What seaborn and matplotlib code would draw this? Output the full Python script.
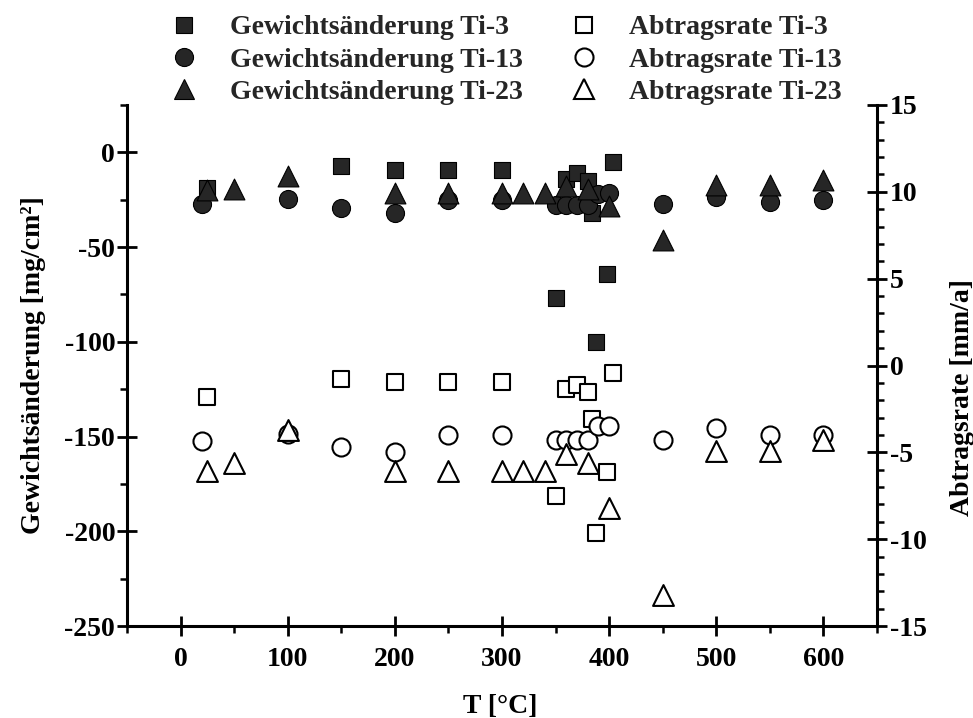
import matplotlib
matplotlib.use("Agg")
import matplotlib.pyplot as plt
import seaborn as sns
from matplotlib.ticker import MultipleLocator
from matplotlib.lines import Line2D

# Temperatures [°C], weight change [mg/cm²] and removal rate [mm/a]
T_ti3 = [25, 150, 200, 250, 300, 350, 360, 370, 380, 384, 388, 398, 404]
gew_ti3 = [-19, -7, -9.5, -9.5, -9.5, -77, -14, -11, -15, -32, -100, -64, -5]
abt_ti3 = [-1.8, -0.75, -0.95, -0.95, -0.95, -7.5, -1.35, -1.1, -1.55, -3.1, -9.65, -6.15, -0.45]

T_ti13 = [20, 100, 150, 200, 250, 300, 350, 360, 370, 380, 390, 400, 450, 500, 550, 600]
gew_ti13 = [-27.5, -24.5, -29.5, -32, -25, -25, -28, -28, -28, -28, -22, -21.5, -27.5, -23.5, -26, -25]
abt_ti13 = [-4.35, -3.95, -4.7, -5.0, -4.0, -4.0, -4.3, -4.3, -4.3, -4.3, -3.5, -3.5, -4.3, -3.6, -4.0, -4.0]

T_ti23 = [25, 50, 100, 200, 250, 300, 320, 340, 360, 380, 400, 450, 500, 550, 600]
gew_ti23 = [-20, -19.5, -12.5, -21.5, -21.5, -21.5, -21.5, -21.5, -17.5, -19.5, -28.5, -46, -17, -17, -14.5]
abt_ti23 = [-6.1, -5.6, -3.7, -6.1, -6.1, -6.1, -6.1, -6.1, -5.1, -5.6, -8.2, -13.2, -4.95, -4.95, -4.3]

labels_gew = ["Gewichtsänderung Ti-3", "Gewichtsänderung Ti-13", "Gewichtsänderung Ti-23"]
labels_abt = ["Abtragsrate Ti-3", "Abtragsrate Ti-13", "Abtragsrate Ti-23"]

sns.set_theme(style="white")
plt.rcParams["font.family"] = ["Liberation Serif", "DejaVu Serif"]
plt.rcParams["font.weight"] = "bold"
plt.rcParams["axes.labelweight"] = "bold"
plt.rcParams["axes.unicode_minus"] = False

FS = 20
FILL = "#262626"
msize = {"s": 11.5, "o": 13.0, "^": 15.0}

fig = plt.figure(figsize=(9.73, 7.18), dpi=100)
ax = fig.add_axes([127 / 973, 1 - 626 / 718, 750 / 973, 521 / 718])
ax2 = ax.twinx()

# filled markers: weight change on the left axis
for T, vals, m in [(T_ti3, gew_ti3, "s"), (T_ti13, gew_ti13, "o"), (T_ti23, gew_ti23, "^")]:
    sns.scatterplot(x=T, y=vals, marker=m, s=msize[m] ** 2, color=FILL,
                    edgecolor="black", linewidth=0.8, ax=ax, legend=False, zorder=3)

# open markers: removal rate on the right axis
for T, vals, m in [(T_ti3, abt_ti3, "s"), (T_ti13, abt_ti13, "o"), (T_ti23, abt_ti23, "^")]:
    sns.scatterplot(x=T, y=vals, marker=m, s=msize[m] ** 2, color="white",
                    edgecolor="black", linewidth=1.5, ax=ax2, legend=False, zorder=3)

ax.set_xlim(-50, 650)
ax.set_ylim(-250, 25)
ax2.set_ylim(-15, 15)

ax.xaxis.set_major_locator(MultipleLocator(100))
ax.xaxis.set_minor_locator(MultipleLocator(50))
ax.yaxis.set_major_locator(MultipleLocator(50))
ax.yaxis.set_minor_locator(MultipleLocator(25))
ax2.yaxis.set_major_locator(MultipleLocator(5))
ax2.yaxis.set_minor_locator(MultipleLocator(1))
ax.set_yticks(range(-250, 1, 50))

for sp in ["top", "right"]:
    ax.spines[sp].set_visible(False)
for sp in ["top", "left", "bottom"]:
    ax2.spines[sp].set_visible(False)
for sp in ["left", "bottom"]:
    ax.spines[sp].set_linewidth(2.2)
    ax.spines[sp].set_color("black")
ax2.spines["right"].set_linewidth(2.2)
ax2.spines["right"].set_color("black")

ax.tick_params(axis="x", which="major", bottom=True, direction="inout", length=14,
               width=2.0, color="black", labelsize=FS, pad=8, labelcolor="black")
ax.tick_params(axis="y", which="major", left=True, direction="inout", length=14,
               width=2.0, color="black", labelsize=FS, pad=1.5, labelcolor="black")
ax.tick_params(axis="both", which="minor", bottom=True, left=True, direction="out",
               length=5, width=1.8, color="black")
ax2.tick_params(axis="y", which="major", right=True, direction="inout", length=14,
                width=2.0, color="black", labelsize=FS, pad=2.5, labelcolor="black")
ax2.tick_params(axis="y", which="minor", right=True, direction="out", length=5,
                width=1.8, color="black")

ax.set_xlabel("T [°C]", fontsize=FS, fontweight="bold", color="black")
ax.set_ylabel("Gewichtsänderung [mg/cm²]", fontsize=FS, fontweight="bold", color="black")
ax2.set_ylabel("Abtragsrate [mm/a]", fontsize=FS, fontweight="bold", color="black")
ax.xaxis.set_label_coords(0.497, -0.131)
ax.yaxis.set_label_coords(-0.108, 0.5)
ax2.yaxis.set_label_coords(1.097, 0.4376)

handles = []
for m in ["s", "o", "^"]:
    handles.append(Line2D([], [], ls="none", marker=m, ms=msize[m], mfc=FILL,
                          mec="black", mew=0.8))
for m in ["s", "o", "^"]:
    handles.append(Line2D([], [], ls="none", marker=m, ms=msize[m], mfc="white",
                          mec="black", mew=1.5))

fig.legend(handles, labels_gew + labels_abt, ncol=2, loc="center",
           bbox_to_anchor=(506 / 973, 1 - 60 / 718), bbox_transform=fig.transFigure,
           frameon=False, handlelength=1.0, handletextpad=1.15, columnspacing=1.7,
           labelspacing=0.25, borderpad=0, borderaxespad=0,
           prop={"family": ["Liberation Serif", "DejaVu Serif"], "weight": "bold", "size": FS})

fig.savefig("out.png", dpi=100)
